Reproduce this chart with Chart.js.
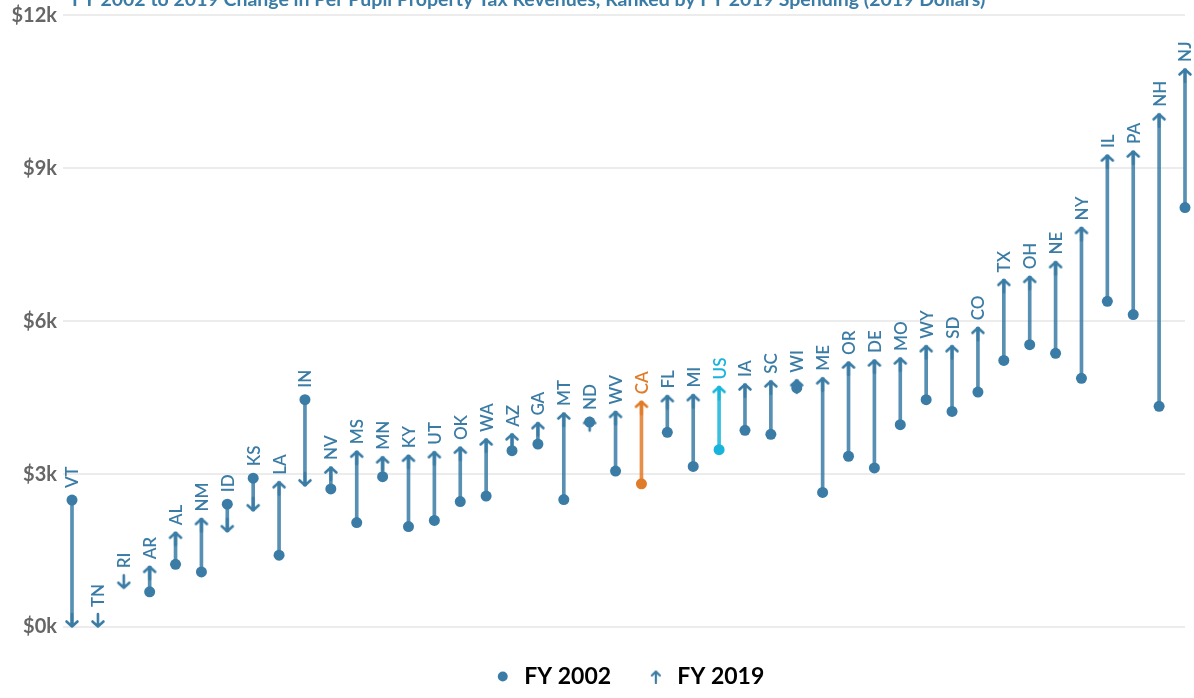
<!DOCTYPE html>
<html>
<head>
<meta charset="utf-8">
<script src="https://cdn.jsdelivr.net/npm/chart.js@4"></script>
<style>
  html, body { margin: 0; padding: 0; background: #fff; overflow: hidden; }
  .wrap { position: relative; width: 1194px; height: 714px; margin-top: -16px; }
</style>
</head>
<body>
<div class="wrap"><canvas id="taxChart"></canvas></div>
<script>
// states ranked by FY 2019 spending
const states = ['VT','TN','RI','AR','AL','NM','ID','KS','LA','IN','NV','MS','MN','KY','UT','OK','WA','AZ','GA','MT','ND','WV','CA','FL','MI','US','IA','SC','WI','ME','OR','DE','MO','WY','SD','CO','TX','OH','NE','NY','IL','PA','NH','NJ'];

// per pupil property tax revenue, 2019 dollars
const fy2002 = [2490, null, null, 690, 1230, 1080, 2410, 2920, 1410, 4460, 2710, 2050, 2950, 1970, 2090, 2460, 2570, 3460, 3590, 2500, 4020, 3060, 2810, 3820, 3150, 3480, 3860, 3780, 4690, 2640, 3350, 3120, 3970, 4460, 4230, 4610, 5230, 5540, 5370, 4880, 6390, 6130, 4330, 8230];
const fy2019 = [0, 0, 760, 1190, 1860, 2130, 1870, 2280, 2850, 2770, 3140, 3450, 3340, 3370, 3440, 3530, 3690, 3790, 4010, 4200, 4110, 4230, 4430, 4540, 4560, 4720, 4770, 4830, 4850, 4890, 5200, 5240, 5280, 5520, 5520, 5880, 6820, 6880, 7170, 7840, 9260, 9340, 10070, 10950];

const yTicks = [0, 3000, 6000, 9000, 12000];

const BLUE = '#3a7ca5';
const highlight = { CA: '#e07b28', US: '#19b4db' };
const colorOf = s => highlight[s] || BLUE;

function fade(hex, a) {
  const n = parseInt(hex.slice(1), 16);
  return `rgba(${n >> 16},${(n >> 8) & 255},${n & 255},${a})`;
}

// arrow marker, tip sits in the centre of the image so it lands on the value
function makeArrow(color, up) {
  const len = 13, w = 16;
  const c = document.createElement('canvas');
  c.width = w; c.height = len * 2 + 4;
  const ctx = c.getContext('2d');
  const cy = c.height / 2;
  const d = up ? 1 : -1;
  ctx.strokeStyle = color;
  ctx.lineWidth = 2.6;
  ctx.lineCap = 'round';
  ctx.lineJoin = 'round';
  ctx.beginPath();
  ctx.moveTo(w / 2, cy + 1 * d);
  ctx.lineTo(w / 2, cy + len * d);
  ctx.moveTo(w / 2 - 5.5, cy + 5.5 * d);
  ctx.lineTo(w / 2, cy + 0.5 * d);
  ctx.lineTo(w / 2 + 5.5, cy + 5.5 * d);
  ctx.stroke();
  return c;
}

function legendArrow(color) {
  const c = document.createElement('canvas');
  c.width = 12; c.height = 14;
  const ctx = c.getContext('2d');
  ctx.strokeStyle = color;
  ctx.lineWidth = 2.2;
  ctx.lineCap = 'round';
  ctx.lineJoin = 'round';
  ctx.beginPath();
  ctx.moveTo(6, 2); ctx.lineTo(6, 13);
  ctx.moveTo(2, 6); ctx.lineTo(6, 2); ctx.lineTo(10, 6);
  ctx.stroke();
  return c;
}

const goesDown = i => fy2002[i] == null || fy2019[i] < fy2002[i];
const arrowStyles = states.map((s, i) => makeArrow(colorOf(s), !goesDown(i)));

const stateLabels = {
  id: 'stateLabels',
  afterDatasetsDraw(chart) {
    const { ctx, scales: { x, y } } = chart;
    ctx.save();
    ctx.font = '600 17px Lato';
    ctx.textAlign = 'left';
    ctx.textBaseline = 'middle';
    states.forEach((s, i) => {
      const px = x.getPixelForValue(i);
      let top = Infinity;
      if (fy2002[i] != null) top = y.getPixelForValue(fy2002[i]) - 5;
      const tip = y.getPixelForValue(fy2019[i]);
      top = Math.min(top, goesDown(i) ? tip - 13 : tip);
      ctx.save();
      ctx.translate(px + 1, top - 7);
      ctx.rotate(-Math.PI / 2);
      ctx.fillStyle = colorOf(s);
      ctx.fillText(s, 0, 0);
      ctx.restore();
    });
    ctx.restore();
  }
};

const taxChart = new Chart(
  document.getElementById('taxChart'),
  {
    data: {
      labels: states,
      datasets: [
        {
          type: 'bar',
          label: 'change',
          data: states.map((s, i) => fy2002[i] == null ? null : [fy2002[i], fy2019[i]]),
          backgroundColor: states.map(s => fade(colorOf(s), 0.85)),
          barThickness: 3,
          clip: false,
          order: 3,
        },
        {
          type: 'line',
          label: 'FY 2002',
          data: fy2002,
          showLine: false,
          pointRadius: 5.5,
          pointHoverRadius: 5.5,
          pointBorderWidth: 0,
          pointBackgroundColor: states.map(colorOf),
          clip: false,
          order: 1,
        },
        {
          type: 'line',
          label: 'FY 2019',
          data: fy2019,
          showLine: false,
          pointStyle: arrowStyles,
          pointRadius: 8,
          clip: false,
          order: 2,
        },
      ],
    },
    options: {
      responsive: true,
      maintainAspectRatio: false,
      animation: false,
      layout: { padding: { left: 0, right: 8, top: 0, bottom: 0 } },
      scales: {
        x: {
          type: 'category',
          offset: false,
          grid: { display: false },
          border: { display: false },
          ticks: { display: false },
          afterFit: scale => { scale.height = 32; },
        },
        y: {
          min: 0,
          max: 12000,
          afterBuildTicks: scale => { scale.ticks = yTicks.map(v => ({ value: v })); },
          afterFit: scale => { scale.width = 72; },
          border: { display: false },
          grid: { color: '#ececec', lineWidth: 2, tickLength: 9, tickColor: '#ececec' },
          ticks: {
            padding: 6,
            color: '#666',
            font: { family: 'Lato', size: 20, weight: 'bold' },
            callback: v => '$' + (v / 1000) + 'k',
          },
        },
      },
      plugins: {
        title: {
          display: true,
          fullSize: false,
          align: 'start',
          text: 'FY 2002 to 2019 Change in Per Pupil Property Tax Revenues, Ranked by FY 2019 Spending (2019 Dollars)',
          color: BLUE,
          font: { family: 'Lato', size: 19.5, weight: 'bold' },
          padding: { top: 4, bottom: 4 },
        },
        legend: {
          position: 'bottom',
          fullSize: false,
          labels: {
            usePointStyle: true,
            boxWidth: 20,
            boxHeight: 7,
            padding: 6,
            color: '#111',
            font: { family: 'Lato', size: 23, weight: 'bold' },
            generateLabels: () => [
              { text: 'FY 2002\u2003\u2002', pointStyle: 'circle', fillStyle: BLUE, strokeStyle: BLUE, lineWidth: 0, datasetIndex: 1 },
              { text: 'FY 2019', pointStyle: legendArrow(BLUE), fillStyle: BLUE, strokeStyle: BLUE, lineWidth: 0, datasetIndex: 2 },
            ],
          },
        },
        tooltip: { enabled: false },
      },
    },
    plugins: [stateLabels],
  }
);
</script>
</body>
</html>
